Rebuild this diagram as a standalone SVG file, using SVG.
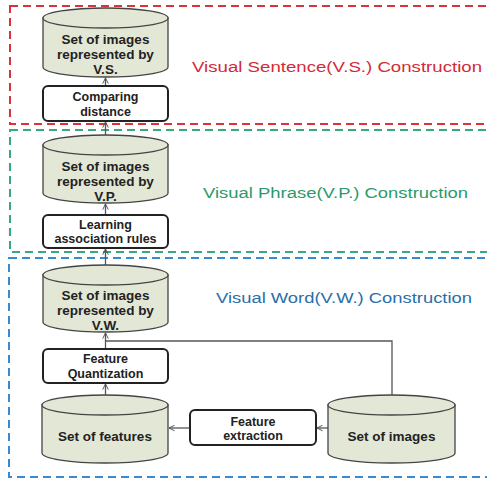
<svg xmlns="http://www.w3.org/2000/svg" width="487" height="480" viewBox="0 0 487 480">
<defs>
<marker id="ah" viewBox="0 0 10 10" refX="9" refY="5" markerWidth="7" markerHeight="7" orient="auto" markerUnits="userSpaceOnUse">
<path d="M1,1 L9,5 L1,9" fill="none" stroke="#555" stroke-width="1.4"/>
</marker>
</defs>
<style>
.cyl{fill:#e3e8d6;stroke:#444;stroke-width:1.3}
.box{fill:#fff;stroke:#222;stroke-width:2}
.t{font-family:"Liberation Sans",Arial,sans-serif;font-weight:bold;font-size:13.5px;fill:#222;text-anchor:middle}
.bt{font-family:"Liberation Sans",Arial,sans-serif;font-weight:bold;font-size:12.5px;fill:#222;text-anchor:middle}
.lbl{font-family:"Liberation Sans",Arial,sans-serif;font-size:15.5px}
.frame{fill:none;stroke-width:2;stroke-dasharray:8 5}
.c{fill:none;stroke:#555;stroke-width:1.3}
</style>
<rect width="487" height="480" fill="#fff"/>
<g id="frames">
<rect class="frame" x="10" y="6" width="490" height="118" stroke="#d9343c"/>
<rect class="frame" x="10" y="130" width="490" height="122" stroke="#3aa878"/>
<rect class="frame" x="9" y="258" width="490" height="219" stroke="#3a8ad0"/>
</g>
<g id="labels">
<text class="lbl" x="192" y="72" fill="#d42a36" textLength="290" lengthAdjust="spacingAndGlyphs">Visual Sentence(V.S.) Construction</text>
<text class="lbl" x="203" y="198" fill="#2a9a6a" textLength="265" lengthAdjust="spacingAndGlyphs">Visual Phrase(V.P.) Construction</text>
<text class="lbl" x="216" y="303" fill="#2a6ea8" textLength="256" lengthAdjust="spacingAndGlyphs">Visual Word(V.W.) Construction</text>
</g>
<g id="connectors">
<line class="c" x1="105.5" y1="86" x2="105.5" y2="78" marker-end="url(#ah)"/>
<line class="c" x1="105.5" y1="135" x2="105.5" y2="122" marker-end="url(#ah)"/>
<line class="c" x1="105.5" y1="215" x2="105.5" y2="204" marker-end="url(#ah)"/>
<line class="c" x1="105.5" y1="265" x2="105.5" y2="249" marker-end="url(#ah)"/>
<line class="c" x1="105.5" y1="349" x2="105.5" y2="333" marker-end="url(#ah)"/>
<line class="c" x1="105.5" y1="395" x2="105.5" y2="384" marker-end="url(#ah)"/>
<polyline class="c" points="392,395 392,341 105.5,341"/>
<line class="c" x1="328" y1="428" x2="317" y2="428" marker-end="url(#ah)"/>
<line class="c" x1="190" y1="428" x2="169" y2="428" marker-end="url(#ah)"/>
</g>
<g id="vs-images">
<path class="cyl" d="M43,18 L43,67 A62.5,10 0 0 0 168,67 L168,18 Z"/>
<ellipse class="cyl" cx="105.5" cy="18" rx="62.5" ry="10"/>
<text class="t" x="105.5" y="44">Set of images</text>
<text class="t" x="105.5" y="59">represented by</text>
<text class="t" x="105.5" y="74">V.S.</text>
</g>
<g id="comparing">
<rect class="box" x="43" y="86" width="125" height="35" rx="5"/>
<text class="bt" x="105.5" y="101">Comparing</text>
<text class="bt" x="105.5" y="115.5">distance</text>
</g>
<g id="vp-images">
<path class="cyl" d="M43,145 L43,193 A62.5,10 0 0 0 168,193 L168,145 Z"/>
<ellipse class="cyl" cx="105.5" cy="145" rx="62.5" ry="10"/>
<text class="t" x="105.5" y="171">Set of images</text>
<text class="t" x="105.5" y="186">represented by</text>
<text class="t" x="105.5" y="201">V.P.</text>
</g>
<g id="learning">
<rect class="box" x="43" y="215" width="125" height="33" rx="5"/>
<text class="bt" x="105.5" y="228.5">Learning</text>
<text class="bt" x="105.5" y="243">association rules</text>
</g>
<g id="vw-images">
<path class="cyl" d="M43,275 L43,322 A62.5,10 0 0 0 168,322 L168,275 Z"/>
<ellipse class="cyl" cx="105.5" cy="275" rx="62.5" ry="10"/>
<text class="t" x="105.5" y="300">Set of images</text>
<text class="t" x="105.5" y="315">represented by</text>
<text class="t" x="105.5" y="330">V.W.</text>
</g>
<g id="quantization">
<rect class="box" x="43" y="349" width="125" height="34" rx="5"/>
<text class="bt" x="105.5" y="362.5">Feature</text>
<text class="bt" x="105.5" y="377.5">Quantization</text>
</g>
<g id="features">
<path class="cyl" d="M42,405 L42,453 A63,10 0 0 0 168,453 L168,405 Z"/>
<ellipse class="cyl" cx="105" cy="405" rx="63" ry="10"/>
<text class="t" x="105" y="441">Set of features</text>
</g>
<g id="extraction">
<rect class="box" x="190" y="410" width="126" height="35" rx="5"/>
<text class="bt" x="253" y="425.5">Feature</text>
<text class="bt" x="253" y="440">extraction</text>
</g>
<g id="images">
<path class="cyl" d="M328,405 L328,453 A63.5,10 0 0 0 455,453 L455,405 Z"/>
<ellipse class="cyl" cx="391.5" cy="405" rx="63.5" ry="10"/>
<text class="t" x="391.5" y="441">Set of images</text>
</g>
</svg>
